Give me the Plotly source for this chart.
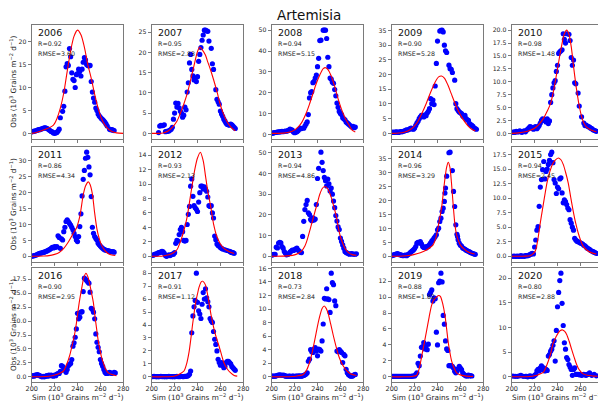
import plotly.graph_objects as go

# ---------------- data ----------------
years = [2006, 2007, 2008, 2009, 2010, 2011, 2012, 2013, 2014, 2015, 2016, 2017, 2018, 2019, 2020]
r_values = [0.92, 0.95, 0.94, 0.90, 0.98, 0.86, 0.93, 0.94, 0.96, 0.94, 0.90, 0.91, 0.73, 0.88, 0.80]
rmse_values = [3.60, 2.83, 5.15, 5.28, 1.48, 4.34, 2.13, 4.86, 3.29, 2.45, 2.95, 1.12, 2.84, 1.82, 2.88]
y_dticks = [5, 5, 10, 5, 2.5, 5, 2, 10, 5, 2.5, 2.5, 1, 2, 2, 5]
x_ticks = [200, 220, 240, 260, 280]

# observed (day, value)
obs_2006 = [(200,0.3),(201,0.4),(202,0.5),(203,0.5),(204,0.6),(205,0.7),(206,0.8),(207,0.8),(208,0.9),(209,1.0),(210,1.1),(211,1.2),(212,1.2),(213,1.1),(214,1.0),(215,0.8),(216,0.6),(217,0.4),(218,0.3),(219,0.1),(220,0.0),(221,0.1),(222,0.2),(223,0.5),(224,0.9),(225,3.4),(227,4.8),(228,5.9),(229,9.2),(230,14.5),(231,15.2),(232,14.8),(233,18.5),(234,16.7),(235,13.2),(236,11.8),(237,11.5),(238,10.0),(239,12.8),(240,13.0),(241,14.0),(242,13.5),(243,12.5),(244,14.0),(245,15.5),(246,16.5),(247,16.0),(248,15.0),(249,14.8),(250,14.7),(251,14.8),(252,11.3),(253,9.0),(254,7.7),(255,6.8),(256,5.5),(257,5.0),(258,4.2),(259,3.8),(260,3.5),(261,3.2),(262,3.0),(263,2.7),(264,2.4),(265,2.0),(266,1.6),(268,0.9),(269,0.8),(270,0.8),(271,0.7),(272,0.6)]
obs_2007 = [(206,0.2),(207,1.8),(208,2.0),(209,1.9),(210,2.0),(211,2.1),(212,0.4),(213,0.5),(214,0.5),(215,0.6),(216,0.8),(217,1.0),(218,1.5),(219,3.5),(220,5.0),(221,7.5),(222,6.5),(223,7.4),(224,6.3),(225,5.5),(226,5.0),(227,4.0),(228,4.5),(229,6.5),(230,5.8),(231,10.2),(232,12.5),(233,17.4),(234,19.5),(235,15.8),(236,14.2),(237,13.2),(238,13.6),(239,12.8),(240,14.0),(241,17.8),(242,19.5),(243,21.2),(244,23.0),(245,24.3),(246,25.5),(247,25.5),(248,25.3),(249,25.2),(250,22.8),(252,21.0),(253,17.2),(254,15.8),(256,10.8),(257,8.4),(258,7.8),(259,7.2),(260,5.5),(261,4.8),(262,4.2),(263,3.5),(264,3.0),(265,2.5),(266,2.2),(267,2.1),(268,2.0),(269,2.3),(270,2.1),(271,1.8),(272,1.5),(273,1.2)]
obs_2008 = [(200,0.5),(201,0.6),(202,0.8),(203,0.9),(204,1.0),(205,1.1),(206,1.2),(207,1.2),(208,1.3),(209,1.4),(210,1.3),(211,1.5),(212,1.6),(213,1.5),(214,1.8),(215,2.0),(216,2.5),(217,2.2),(218,2.0),(219,1.2),(220,0.8),(221,1.0),(222,1.3),(223,1.8),(224,2.5),(225,3.0),(226,2.8),(228,3.0),(229,4.0),(230,5.0),(231,6.0),(232,9.5),(233,17.5),(234,20.0),(235,20.5),(236,24.8),(237,25.5),(238,27.0),(239,28.5),(240,32.5),(241,36.5),(242,45.0),(243,45.2),(245,50.0),(246,50.0),(247,50.0),(248,46.0),(249,37.0),(250,32.5),(251,27.0),(252,26.5),(253,25.0),(254,24.5),(255,21.5),(256,18.5),(257,15.0),(258,13.0),(259,11.0),(260,10.0),(261,9.5),(262,8.0),(263,7.5),(264,7.0),(265,6.0),(266,5.5),(267,5.0),(268,4.5),(269,4.0),(270,3.5),(271,3.8),(272,3.2),(273,3.5)]
obs_2009 = [(200,0.3),(201,0.4),(202,0.3),(203,0.4),(204,0.5),(205,0.4),(206,0.3),(207,0.5),(208,0.6),(209,0.5),(210,0.7),(211,0.8),(212,1.0),(213,1.2),(214,1.1),(215,1.3),(216,1.6),(217,1.8),(218,1.5),(219,1.4),(220,1.8),(221,2.7),(222,3.5),(223,4.1),(224,5.0),(225,5.6),(226,6.1),(227,5.9),(228,5.6),(229,6.3),(230,6.0),(231,6.9),(232,7.5),(233,8.4),(234,11.8),(235,10.1),(236,11.3),(237,9.8),(238,16.1),(239,23.8),(240,31.4),(242,34.8),(243,35.0),(244,35.1),(245,34.5),(246,30.0),(247,28.1),(248,27.5),(250,23.2),(251,22.0),(252,21.8),(253,20.7),(255,18.1),(256,10.1),(257,8.4),(258,7.8),(259,7.3),(260,7.0),(261,6.7),(262,5.9),(263,5.6),(264,6.1),(265,5.0),(266,4.6),(267,4.4),(268,3.3),(269,3.0),(270,2.7),(271,2.4),(272,1.8),(273,1.6),(274,1.4)]
obs_2010 = [(201,0.2),(202,0.3),(203,0.2),(204,0.4),(205,0.3),(206,0.3),(207,0.5),(208,0.3),(209,0.2),(210,0.4),(211,0.5),(212,0.3),(213,0.6),(214,0.8),(215,1.0),(216,1.3),(217,1.2),(218,1.0),(219,0.8),(220,1.2),(221,1.3),(222,0.9),(223,1.2),(224,1.5),(225,2.0),(226,2.5),(227,2.8),(228,2.5),(229,2.7),(230,2.2),(231,2.8),(232,1.9),(233,2.4),(234,6.0),(235,7.5),(236,8.8),(237,9.8),(238,10.2),(239,12.0),(240,13.2),(241,15.5),(242,15.8),(243,16.0),(244,16.2),(245,19.3),(246,18.2),(247,17.5),(248,19.3),(250,19.2),(251,18.0),(252,14.7),(253,13.2),(254,14.2),(255,9.8),(256,9.6),(258,7.8),(259,5.3),(261,3.2),(263,2.0),(264,1.5),(265,1.6),(266,1.4),(267,1.3),(268,1.2),(269,1.0),(270,0.9),(271,0.7),(272,0.6),(273,0.5),(274,0.4)]
obs_2011 = [(200,0.0),(201,0.1),(202,0.2),(203,0.3),(204,0.4),(205,0.6),(206,0.8),(207,0.9),(208,1.0),(209,1.1),(210,1.2),(211,1.3),(212,1.5),(213,1.6),(214,1.8),(215,2.0),(216,2.2),(217,2.5),(218,2.8),(219,2.6),(220,3.0),(221,2.8),(222,3.0),(223,6.4),(224,5.9),(225,2.5),(226,5.5),(227,5.1),(228,7.7),(229,9.1),(230,10.9),(231,11.4),(232,10.9),(233,10.3),(234,9.8),(235,9.1),(236,8.3),(237,7.2),(238,6.2),(239,5.1),(240,4.6),(241,6.2),(242,9.3),(243,13.3),(244,18.9),(245,24.1),(246,26.9),(247,30.7),(248,32.6),(249,31.0),(250,28.0),(251,25.5),(252,18.7),(253,9.1),(254,7.2),(255,6.2),(256,5.6),(257,5.1),(258,4.1),(259,3.6),(260,3.2),(261,2.8),(262,2.5),(263,2.2),(264,2.0),(265,1.9),(266,1.8),(267,1.7),(268,1.6),(269,1.5),(270,1.4),(271,1.5),(272,1.3)]
obs_2012 = [(200,0.1),(201,0.15),(202,0.2),(203,0.3),(204,0.3),(205,0.4),(206,0.5),(207,0.5),(208,0.6),(209,0.7),(210,0.6),(211,0.4),(212,0.1),(213,0.0),(214,0.1),(215,0.2),(216,0.1),(217,0.2),(218,0.3),(219,0.3),(220,0.5),(221,1.8),(222,2.2),(223,2.1),(224,3.0),(225,3.7),(226,4.0),(227,3.4),(228,2.2),(229,2.1),(230,2.2),(231,4.4),(232,5.8),(233,6.9),(234,9.7),(235,10.7),(236,8.3),(237,7.0),(238,6.7),(239,6.5),(240,6.2),(241,7.5),(242,8.8),(243,9.7),(244,9.7),(245,9.3),(246,9.6),(247,9.3),(248,9.0),(249,8.2),(250,7.0),(251,6.9),(252,7.0),(253,6.0),(254,5.3),(255,2.8),(256,2.3),(257,1.7),(258,1.5),(259,1.4),(260,1.2),(261,1.1),(262,1.0),(264,0.9),(266,0.8),(268,0.7),(269,0.6),(270,0.5),(271,0.5),(272,0.4)]
obs_2013 = [(200,0.5),(201,0.8),(202,1.0),(203,0.9),(204,4.4),(205,4.0),(206,6.4),(207,6.7),(208,6.5),(209,4.7),(210,3.9),(211,2.3),(212,1.5),(213,0.7),(214,0.9),(215,1.2),(216,2.0),(217,2.5),(218,3.0),(219,2.8),(220,3.2),(221,3.6),(222,3.9),(223,3.0),(224,2.5),(225,2.0),(226,1.8),(227,9.6),(228,16.9),(229,22.6),(230,25.0),(231,27.0),(232,21.0),(233,20.2),(234,17.8),(235,17.2),(236,18.6),(237,17.5),(238,18.0),(239,25.0),(240,37.6),(241,42.5),(243,50.3),(244,45.4),(245,41.4),(246,38.1),(247,36.5),(248,34.0),(249,37.3),(250,35.0),(251,31.6),(252,33.0),(253,30.0),(254,26.7),(255,23.5),(256,19.7),(257,17.0),(258,14.2),(259,12.9),(260,8.8),(261,7.2),(262,5.5),(263,3.9),(264,2.3),(265,1.8),(266,1.5),(267,1.2),(268,1.0),(269,1.2),(270,1.3),(271,1.0),(272,1.1),(273,1.0),(274,1.2)]
obs_2014 = [(200,0.2),(201,0.4),(202,0.5),(203,0.7),(204,0.8),(205,1.0),(206,0.8),(207,0.6),(208,0.5),(209,0.3),(210,0.2),(211,0.3),(212,0.4),(213,0.2),(214,0.6),(215,0.8),(216,1.2),(217,1.6),(218,2.0),(219,2.3),(220,2.8),(221,3.5),(222,4.7),(223,5.0),(224,4.8),(225,5.3),(226,4.5),(227,3.5),(228,3.2),(229,3.4),(230,3.0),(231,3.6),(232,3.5),(233,4.2),(234,4.8),(235,5.5),(236,5.9),(237,6.5),(238,7.1),(239,7.7),(240,9.5),(241,10.1),(242,12.5),(243,13.7),(244,16.1),(245,17.3),(246,19.7),(246.5,22.7),(247,24.5),(248,28.8),(250,37.2),(251,37.4),(253,30.8),(254,23.3),(255,17.9),(256,11.3),(257,7.9),(257.5,7.1),(258,5.9),(259,4.7),(260,4.0),(261,3.7),(262,3.0),(263,2.8),(264,2.5),(265,2.2),(266,2.0),(267,1.8),(268,1.6),(269,1.3),(270,1.1),(271,1.0),(272,0.8),(273,0.7)]
obs_2015 = [(201,0.0),(202,0.05),(203,0.0),(204,0.0),(205,0.05),(206,0.0),(207,0.0),(208,0.1),(209,0.0),(210,0.05),(211,0.0),(212,0.1),(213,0.1),(214,0.1),(215,0.2),(216,0.3),(217,0.4),(218,0.5),(219,0.4),(220,1.6),(221,2.8),(222,4.5),(223,5.1),(224,8.6),(225,11.9),(226,13.2),(227,14.9),(228,16.3),(229,13.3),(230,14.6),(231,15.0),(232,15.8),(233,16.5),(234,17.5),(235,17.9),(236,16.1),(237,13.2),(238,12.6),(239,10.8),(240,11.9),(241,11.6),(242,13.3),(243,13.5),(244,10.9),(245,9.2),(246,9.7),(247,9.4),(248,8.9),(249,8.3),(250,8.0),(251,6.3),(252,5.7),(253,5.0),(254,4.5),(255,3.1),(256,2.8),(257,2.6),(258,2.5),(259,2.4),(260,2.3),(261,2.2),(262,2.1),(263,1.9),(264,1.8),(265,1.6),(266,1.4),(267,1.3),(268,1.2),(269,1.0),(270,0.9),(271,0.8),(272,0.7),(273,0.6),(274,0.5)]
obs_2016 = [(200,0.1),(201,0.2),(202,0.1),(203,0.3),(204,0.3),(205,0.4),(206,0.3),(207,0.2),(208,0.1),(209,0.0),(210,0.1),(211,0.0),(212,0.1),(213,0.2),(214,0.1),(215,0.3),(216,0.2),(217,0.3),(218,0.2),(219,0.1),(220,0.3),(221,0.2),(222,0.5),(223,0.6),(224,0.6),(225,1.0),(226,2.0),(227,1.9),(228,1.6),(229,1.2),(230,0.8),(231,1.3),(232,2.0),(233,2.2),(234,2.4),(235,3.1),(236,5.5),(237,6.1),(238,7.1),(239,8.6),(240,11.4),(241,10.4),(242,10.7),(243,11.6),(244,11.7),(245,15.3),(246,17.7),(247,17.5),(248,17.3),(249,17.0),(250,16.8),(251,15.2),(252,12.3),(253,12.1),(254,11.6),(255,10.4),(256,7.7),(257,6.2),(258,5.3),(259,4.5),(260,3.1),(261,2.4),(262,1.9),(263,1.3),(264,0.8),(265,0.6),(266,0.6),(267,0.7),(268,0.8),(269,0.7),(270,0.6),(272,0.8),(273,0.7)]
obs_2017 = [(200,0.02),(201,0.02),(202,0.03),(203,0.02),(204,0.02),(205,0.01),(206,0.02),(207,0.02),(208,0.03),(209,0.02),(210,0.02),(211,0.02),(212,0.01),(213,0.02),(214,0.02),(215,0.03),(216,0.02),(217,0.02),(218,0.02),(219,0.01),(220,0.02),(221,0.02),(222,0.03),(223,0.02),(224,0.02),(225,0.02),(226,0.03),(227,0.02),(228,0.02),(229,0.03),(230,0.04),(231,0.05),(232,0.1),(233,0.2),(234,0.45),(235,3.4),(236,4.7),(237,5.4),(238,5.9),(239,8.0),(240,5.75),(241,5.1),(242,4.85),(243,4.5),(244,5.6),(245,6.5),(246,6.0),(247,6.8),(248,6.1),(249,5.8),(250,5.4),(251,4.5),(252,4.3),(253,4.2),(254,3.5),(255,2.9),(256,2.5),(257,2.0),(258,1.35),(259,1.1),(260,0.9),(261,1.1),(262,0.9),(263,0.7),(264,0.8),(265,1.1),(266,1.2),(267,1.2),(268,1.1),(269,1.0),(270,0.8),(271,0.7),(272,0.6),(273,0.5)]
obs_2018 = [(200,0.1),(201,0.1),(202,0.1),(203,0.1),(204,0.15),(205,0.2),(206,0.25),(207,0.3),(208,0.25),(209,0.2),(210,0.25),(211,0.2),(212,0.1),(213,0.1),(214,0.05),(215,0.1),(216,0.1),(217,0.05),(218,0.1),(219,0.1),(220,0.05),(221,0.1),(222,0.1),(223,0.1),(224,0.15),(225,0.1),(226,0.1),(227,0.15),(228,0.2),(229,0.3),(230,0.4),(231,0.6),(232,2.3),(233,2.6),(234,4.0),(235,3.7),(236,3.6),(237,4.1),(238,4.3),(239,3.8),(240,3.1),(241,4.1),(242,4.0),(243,3.8),(244,5.3),(245,7.8),(246,11.6),(247,11.5),(248,13.0),(249,11.5),(250,11.4),(251,9.5),(252,15.3),(253,13.9),(254,13.6),(255,11.2),(256,10.5),(257,3.8),(258,3.7),(259,4.0),(260,3.8),(261,3.6),(262,2.1),(263,3.3),(264,3.1),(265,1.1),(266,0.6),(267,0.35),(268,0.2),(269,0.1),(270,0.1),(271,0.15),(272,0.3),(273,0.35)]
obs_2019 = [(200,0.05),(201,0.05),(202,0.05),(203,0.05),(204,0.05),(205,0.05),(206,0.05),(207,0.05),(208,0.05),(209,0.05),(210,0.05),(211,0.05),(212,0.05),(213,0.05),(214,0.05),(215,0.05),(216,0.05),(217,0.05),(218,0.1),(219,0.1),(220,0.1),(221,0.3),(222,0.5),(223,1.7),(224,1.4),(225,2.6),(226,3.7),(227,3.8),(228,4.3),(229,3.5),(230,3.9),(231,3.4),(232,4.1),(233,10.3),(234,10.6),(235,10.9),(236,9.5),(237,9.9),(238,9.8),(239,5.6),(240,4.0),(241,11.8),(242,12.0),(243,13.0),(244,11.9),(245,7.7),(246,6.6),(247,4.5),(248,3.5),(249,3.3),(250,1.4),(251,1.4),(252,1.4),(253,1.3),(254,1.1),(255,0.7),(256,0.5),(257,0.7),(258,1.0),(259,1.3),(260,1.1),(261,0.9),(262,0.5),(263,0.3),(264,0.2),(265,0.1),(266,0.1),(267,0.2),(268,0.1),(269,0.15),(270,0.1)]
obs_2020 = [(201,0.15),(203,0.1),(205,0.1),(207,0.2),(208,0.3),(210,0.1),(212,0.1),(213,0.1),(214,0.0),(215,0.1),(216,0.2),(217,0.1),(218,0.05),(219,0.1),(220,0.3),(221,0.5),(222,1.2),(223,1.5),(224,1.2),(225,1.8),(226,2.2),(227,1.5),(228,1.8),(229,1.2),(230,1.5),(231,1.3),(232,4.2),(233,4.5),(234,5.2),(235,5.6),(236,6.4),(237,7.3),(238,3.2),(239,9.4),(240,14.2),(241,17.1),(242,19.5),(243,21.0),(244,14.9),(245,10.4),(246,6.9),(247,5.6),(248,3.9),(249,3.5),(250,2.5),(251,2.0),(252,1.5),(253,0.3),(254,1.5),(255,1.8),(256,0.5),(257,0.5),(258,0.5),(259,0.4),(260,0.5),(261,0.3),(262,0.4),(263,0.5),(264,0.4),(265,0.3),(266,0.5),(267,0.5),(268,0.8),(270,0.3),(272,0.5),(274,0.2)]

# simulated (day, value)
sim_2006 = [(200,0.0),(204,0.2),(208,0.5),(212,0.9),(216,1.3),(219,1.8),(222,3.2),(225,5.5),(228,8.8),(231,13.5),(234,18.0),(237,21.2),(240,22.5),(243,21.5),(246,18.8),(249,15.0),(252,12.0),(255,8.5),(258,5.5),(261,3.2),(264,1.8),(267,0.9),(270,0.4),(274,0.1),(280,0.0)]
sim_2007 = [(200,0.0),(206,0.0),(210,0.1),(214,0.5),(218,1.5),(222,3.0),(225,4.9),(228,7.2),(231,9.8),(234,13.2),(237,16.8),(240,20.2),(242,21.3),(244.5,20.5),(247,19.3),(249,17.6),(251.5,15.6),(254,13.3),(257.3,10.0),(259.5,7.5),(262,5.3),(265,3.3),(269,1.6),(273,0.6)]
sim_2008 = [(200,0.5),(205,0.5),(210,0.6),(215,1.0),(219,1.8),(223,3.5),(226,5.5),(230,10.0),(233,14.5),(236,19.5),(239,24.5),(242,28.5),(245,31.5),(247,32.0),(249,31.2),(252,28.0),(255,23.0),(258,17.0),(261,12.0),(264,8.0),(267,5.0),(270,2.2),(273,1.2)]
sim_2009 = [(200,0.0),(206,0.1),(210,0.3),(214,0.8),(218,1.8),(222,3.5),(226,6.5),(230,10.0),(234,14.0),(238,17.5),(241,19.2),(243.5,19.5),(246,18.8),(249,16.5),(252,13.5),(255,10.5),(258,7.8),(261,5.6),(264,3.8),(267,2.4),(270,1.4),(273,0.8)]
sim_2010 = [(200,0.0),(206,0.1),(212,0.3),(216,0.6),(220,1.0),(224,1.8),(228,3.0),(231,4.3),(234,5.8),(237,8.8),(240,12.5),(243,16.3),(246,19.3),(248,20.0),(250,19.2),(252,16.8),(254,13.0),(256,9.5),(257,8.0),(259,5.3),(261,3.3),(263,2.0),(265,1.3),(268,0.8),(271,0.5),(274,0.3)]
sim_2011 = [(200,0.0),(210,0.1),(215,0.2),(220,0.6),(224,1.2),(228,2.5),(232,4.5),(236,7.0),(239,8.8),(242,12.5),(245,19.2),(247,22.0),(249.5,23.3),(251,22.5),(253,19.5),(255,13.5),(257,8.5),(259,5.5),(261,3.5),(264,1.8),(267,0.8),(270,0.4),(273,0.3)]
sim_2012 = [(200,0.0),(210,0.05),(215,0.2),(219,0.5),(222,0.9),(225,2.0),(228,3.5),(231,5.5),(234,8.5),(236,10.5),(238,12.3),(240,13.6),(242.5,14.4),(245,13.2),(247,11.1),(249,9.0),(251.5,6.9),(254,4.5),(257,2.7),(260,1.7),(263,1.1),(267,0.7),(272,0.4)]
sim_2013 = [(200,0.0),(210,0.1),(216,0.3),(220,0.7),(223,1.3),(226,2.5),(229,5.0),(231,8.0),(233.5,12.9),(236,18.0),(238,22.0),(240,26.0),(242,30.0),(244.5,33.0),(246.5,33.7),(249,32.5),(252,28.5),(254.5,23.5),(256.7,18.6),(258,14.5),(259.6,10.4),(261.5,7.0),(264,3.9),(267,1.8),(271,0.7),(274,0.5)]
sim_2014 = [(200,0.0),(210,0.1),(215,0.3),(220,0.7),(225,1.3),(230,2.2),(233,3.0),(236,4.0),(238.5,6.5),(240.6,10.7),(243.5,17.3),(246.4,27.6),(248,32.0),(249.4,33.8),(250.8,32.0),(252.2,26.4),(253.6,19.0),(255.1,11.9),(256.5,8.0),(258,5.9),(260,4.0),(262.4,2.9),(266,1.7),(269,1.2),(272.5,0.8)]
sim_2015 = [(200,0.0),(210,0.02),(216,0.1),(220.3,0.8),(222.5,2.5),(224.7,5.4),(227,8.2),(229,10.6),(231,12.8),(233.4,14.6),(235.5,15.8),(237.8,16.5),(240.7,16.9),(243,16.6),(245,15.8),(247,14.5),(249.4,12.6),(251.5,10.2),(253.8,7.7),(256,5.6),(258.1,4.0),(260.3,2.7),(262.5,1.7),(266,1.0),(271.2,0.5),(274,0.4)]
sim_2016 = [(200,0.0),(212,0.05),(218,0.2),(221.8,0.4),(225,0.7),(227.6,1.0),(230.5,2.2),(233.4,4.0),(235.5,5.8),(237.8,8.0),(239.3,10.0),(240.7,12.2),(242.2,14.2),(243.6,15.8),(245.5,17.8),(247.4,18.6),(249.2,17.9),(250.9,16.4),(252.3,15.0),(253.8,13.4),(255.2,11.0),(256.7,8.6),(258.1,6.5),(259.6,4.9),(261,3.5),(262.5,2.5),(264.5,1.4),(266.9,0.7),(270,0.4),(274,0.2)]
sim_2017 = [(200,0.0),(210,0.0),(219.5,0.05),(224,0.2),(228.2,0.45),(230.5,1.0),(232.6,1.9),(234,2.8),(235.5,3.9),(237,4.9),(238.4,5.75),(240,6.4),(241.3,6.9),(243,7.3),(244.2,7.4),(245.6,7.3),(247.1,7.05),(248.5,6.5),(250,5.75),(252,4.7),(254.4,3.7),(256.5,3.0),(258.7,2.4),(261,1.7),(263,1.1),(266,0.6),(269,0.3),(272,0.1),(274.7,0.05)]
sim_2018 = [(200,0.0),(210,0.0),(218.9,0.05),(223,0.15),(227.6,0.35),(230.5,1.0),(233.4,2.3),(235.6,3.8),(237.8,5.6),(240,7.5),(242.2,9.1),(244,10.1),(245.9,10.45),(247.6,10.1),(249.4,9.3),(251.5,7.8),(253.8,6.1),(256,4.6),(258.1,3.3),(260.3,2.3),(262.5,1.6),(265.5,0.9),(268.3,0.5),(274,0.2)]
sim_2019 = [(200,0.0),(210,0.0),(218,0.05),(221.8,0.2),(224,1.0),(226.2,2.6),(228.4,4.2),(230.5,5.8),(232.7,7.5),(234.9,9.0),(237,9.7),(239.2,10.0),(241,10.2),(242.5,10.1),(244.5,9.2),(246.5,7.7),(248,6.0),(249.4,4.3),(250.9,3.0),(252.3,2.0),(254.5,1.1),(256.7,0.5),(259,0.3),(262.5,0.15),(268,0.05),(271,0.05)]
sim_2020 = [(200,0.0),(212,0.02),(218,0.1),(222,0.3),(225,0.6),(227.6,0.9),(230,2.0),(232,3.2),(234,4.7),(236.3,6.9),(238.5,8.0),(240.7,8.9),(242.5,9.4),(244.5,9.5),(246.3,9.2),(248,8.6),(250.2,7.2),(252.3,5.6),(254.5,4.0),(256.7,2.5),(259,1.4),(262.5,0.6),(266,0.3),(271.2,0.15),(275,0.1)]

obs_sets = [obs_2006, obs_2007, obs_2008, obs_2009, obs_2010, obs_2011, obs_2012, obs_2013,
            obs_2014, obs_2015, obs_2016, obs_2017, obs_2018, obs_2019, obs_2020]
sim_sets = [sim_2006, sim_2007, sim_2008, sim_2009, sim_2010, sim_2011, sim_2012, sim_2013,
            sim_2014, sim_2015, sim_2016, sim_2017, sim_2018, sim_2019, sim_2020]

# ---------------- layout geometry (pixels) ----------------
W, H = 598, 401
col_px = [(31.7, 123.3), (151.7, 243.3), (271.7, 363.3), (391.7, 483.3), (511.7, 603.3)]
row_px = [(25.0, 138.5), (147.0, 261.5), (268.0, 382.0)]
FONT = "DejaVu Sans"
TXT = "#262626"
FRAME = "#7a7a7a"

fig = go.Figure()
layout = {}
annotations = []

for i, yr in enumerate(years):
    r, c = divmod(i, 5)
    sfx = "" if i == 0 else str(i + 1)
    xa, ya = "x" + sfx, "y" + sfx
    ox = [p[0] for p in obs_sets[i]]
    oy = [p[1] for p in obs_sets[i]]
    sx = [p[0] for p in sim_sets[i]]
    sy = [p[1] for p in sim_sets[i]]

    fig.add_trace(go.Scatter(x=ox, y=oy, mode="markers", xaxis=xa, yaxis=ya,
                             marker=dict(color="#0000ff", size=5.2, line=dict(width=0)),
                             showlegend=False, hoverinfo="skip"))
    fig.add_trace(go.Scatter(x=sx, y=sy, mode="lines", xaxis=xa, yaxis=ya,
                             line=dict(color="#ff0000", width=1.1, shape="spline", smoothing=0.8),
                             showlegend=False, hoverinfo="skip"))

    l, rr = col_px[c]
    x_hi = 280.0
    if rr > W:
        x_hi = 200 + 80 * (W - l) / (rr - l)
        rr = W
    t, b = row_px[r]
    xdom = [l / W, rr / W]
    ydom = [1 - b / H, 1 - t / H]

    allv = oy + sy
    lo, hi = min(allv), max(allv)
    span = hi - lo
    yrange = [lo - 0.05 * span, hi + 0.05 * span]

    layout["xaxis" + sfx] = dict(
        domain=xdom, anchor=ya, range=[200, x_hi], tickvals=x_ticks,
        showticklabels=(r == 2), ticks="outside", ticklen=3, tickwidth=0.8, tickcolor=FRAME,
        ticklabelstandoff=-3,
        showline=True, linecolor=FRAME, linewidth=1, mirror=True,
        showgrid=False, zeroline=False, automargin=False,
        tickfont=dict(family=FONT, size=6.5, color=TXT))
    layout["yaxis" + sfx] = dict(
        domain=ydom, anchor=xa, range=yrange, tick0=0, dtick=y_dticks[i],
        tickformat=".1f" if y_dticks[i] == 2.5 else "",
        ticks="outside", ticklen=3, tickwidth=0.8, tickcolor=FRAME,
        showline=True, linecolor=FRAME, linewidth=1, mirror=True,
        showgrid=False, zeroline=False, automargin=False,
        tickfont=dict(family=FONT, size=6.2, color=TXT))

    ph = b - t
    pw = rr - l
    xd, yd = xa + " domain", ya + " domain"
    annotations.append(dict(xref=xd, yref=yd, x=4.5 / pw, y=1 - 7.5 / ph, xanchor="left", yanchor="middle",
                            text=str(yr), showarrow=False, font=dict(family=FONT, size=9.5, color="#111")))
    annotations.append(dict(xref=xd, yref=yd, x=4.5 / pw, y=1 - 18.5 / ph, xanchor="left", yanchor="middle",
                            text="R=%.2f" % r_values[i], showarrow=False,
                            font=dict(family=FONT, size=6.3, color=TXT)))
    annotations.append(dict(xref=xd, yref=yd, x=4.5 / pw, y=1 - 28.5 / ph, xanchor="left", yanchor="middle",
                            text="RMSE=%.2f" % rmse_values[i], showarrow=False,
                            font=dict(family=FONT, size=6.3, color=TXT)))

    if c == 0:
        annotations.append(dict(xref="paper", yref="paper", x=13 / W, y=1 - (t + b) / 2 / H,
                                xanchor="center", yanchor="middle", textangle=-90, showarrow=False,
                                text="Obs (10<sup>3</sup> Grains m<sup>\u22122</sup> d<sup>\u22121</sup>)",
                                font=dict(family=FONT, size=7.3, color=TXT)))
    if r == 2:
        cl, cr = col_px[c]
        annotations.append(dict(xref="paper", yref="paper", x=(cl + cr) / 2 / W, y=1 - 396.5 / H,
                                xanchor="center", yanchor="middle", showarrow=False,
                                text="Sim (10<sup>3</sup> Grains m<sup>\u22122</sup> d<sup>\u22121</sup>)",
                                font=dict(family=FONT, size=7.3, color=TXT)))

annotations.append(dict(xref="paper", yref="paper", x=309 / W, y=1 - 15.5 / H, xanchor="center",
                        yanchor="middle", text="Artemisia", showarrow=False,
                        font=dict(family=FONT, size=13.5, color="#111")))

fig.update_layout(width=W, height=H, margin=dict(l=0, r=0, t=0, b=0, autoexpand=False),
                  paper_bgcolor="white", plot_bgcolor="white", showlegend=False,
                  annotations=annotations, **layout)

fig.write_html("out.html", config={"displayModeBar": False},
               post_script="document.body.style.margin='0';document.body.style.overflow='hidden';")
